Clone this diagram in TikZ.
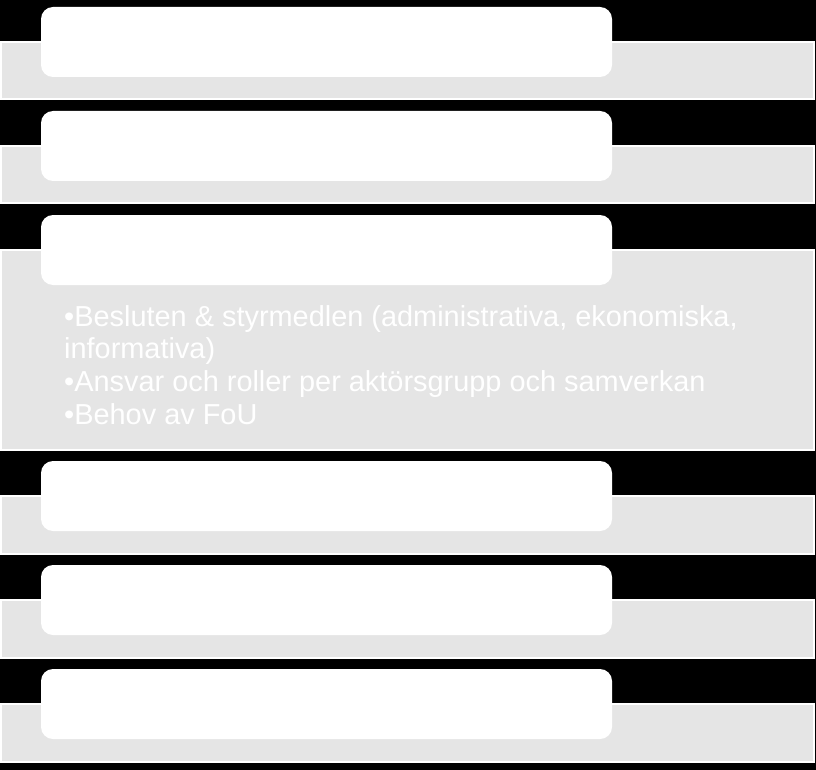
\documentclass[tikz,border=0pt]{standalone}
\usepackage{fontspec}
\setmainfont{Liberation Sans}
\begin{document}
\begin{tikzpicture}[x=1pt,y=-1pt,
  band/.style={fill=black!10,draw=white,line width=2pt},
  card/.style={fill=white,rounded corners=12pt},
  bullettext/.style={anchor=base west,text=white,inner sep=0pt,font=\fontsize{28.9}{32}\selectfont}]
\fill[black] (0,0) rectangle (816,770);
\useasboundingbox (0,0) rectangle (816,770);
% bands
\draw[band] (1,42) rectangle (814,99.5);
\draw[band] (1,146) rectangle (814,203.5);
\draw[band] (1,250) rectangle (814,449.5);
\draw[band] (1,496) rectangle (814,553.5);
\draw[band] (1,600) rectangle (814,657.5);
\draw[band] (1,704) rectangle (814,761.5);
% cards
\fill[card] (41,7) rectangle (612,77);
\fill[card] (41,111) rectangle (612,181);
\fill[card] (41,215) rectangle (612,285);
\fill[card] (41,461) rectangle (612,531);
\fill[card] (41,565) rectangle (612,635);
\fill[card] (41,669) rectangle (612,739);
% text
\node[bullettext] (l1) at (64,326) {•Besluten \& styrmedlen (administrativa, ekonomiska,};
\node[bullettext] (l2) at (64,358) {informativa)};
\node[bullettext] (l3) at (64,391) {•Ansvar och roller per aktörsgrupp och samverkan};
\node[bullettext] (l4) at (64,424) {•Behov av FoU};
\end{tikzpicture}
\end{document}
